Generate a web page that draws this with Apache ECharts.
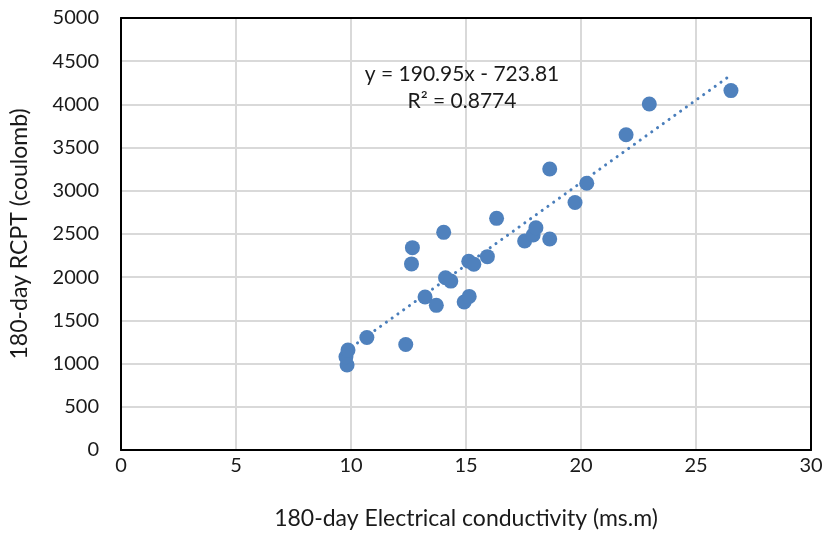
<!DOCTYPE html>
<html><head><meta charset="utf-8">
<script src="https://cdn.jsdelivr.net/npm/echarts@6/dist/echarts.min.js"></script>
<style>html,body{margin:0;padding:0;background:#fff}#c{width:828px;height:535px}</style>
</head><body><div id="c"></div>
<script>
const ecValues = [9.83, 9.78, 9.87, 10.69, 12.38, 12.67, 12.63, 14.03, 13.22, 13.71, 14.11, 14.34, 14.92, 15.14, 15.12, 15.34, 15.93, 16.33, 17.55, 17.92, 18.04, 18.64, 18.64, 19.74, 20.25, 21.96, 22.97, 26.52];
const rcptValues = [983, 1079, 1156, 1302, 1221, 2342, 2154, 2519, 1771, 1674, 1993, 1955, 1713, 1778, 2185, 2151, 2238, 2681, 2419, 2488, 2572, 2442, 3252, 2865, 3087, 3648, 4005, 4160];
const trendSlope = 190.95, trendIntercept = -723.81;
const eqLabel = 'y = 190.95x - 723.81';
const r2Label = 'R² = 0.8774';
const xTitle = '180-day Electrical conductivity (ms.m)';
const yTitle = '180-day RCPT (coulomb)';

const pts = ecValues.map((x, i) => [x, rcptValues[i]]);
const xmin = Math.min(...ecValues), xmax = Math.max(...ecValues);
const trend = [[xmin, trendSlope * xmin + trendIntercept], [xmax, trendSlope * xmax + trendIntercept]];
const font = 'Lato, "Open Sans", sans-serif';
const txt = '#1a1a1a';
const plain = v => String(v);
const frameAxis = {axisLine: {show: true, onZero: false, lineStyle: {color: '#000', width: 2}}, axisTick: {show: false}, axisLabel: {show: false}, splitLine: {show: false}};
const chart = echarts.init(document.getElementById('c'));
chart.setOption({
  animation: false,
  grid: {left: 117, right: 17, top: 18, bottom: 83},
  xAxis: [{type: 'value', min: 0, max: 30, interval: 5,
    name: xTitle, nameLocation: 'middle', nameGap: 57,
    nameTextStyle: {fontSize: 23, color: txt, fontFamily: font},
    axisLine: {show: true, onZero: false, lineStyle: {color: '#000', width: 2}}, axisTick: {show: false},
    axisLabel: {fontSize: 20, color: txt, margin: 6, fontFamily: font, formatter: plain},
    splitLine: {lineStyle: {color: '#d9d9d9', width: 2}}},
    Object.assign({type: 'value', min: 0, max: 30, position: 'top'}, frameAxis)],
  yAxis: [{type: 'value', min: 0, max: 5000, interval: 500,
    name: yTitle, nameLocation: 'middle', nameGap: 90,
    nameTextStyle: {fontSize: 23, color: txt, fontFamily: font},
    axisLine: {show: true, onZero: false, lineStyle: {color: '#000', width: 2}}, axisTick: {show: false},
    axisLabel: {fontSize: 20, color: txt, margin: 22, fontFamily: font, formatter: plain},
    splitLine: {lineStyle: {color: '#d9d9d9', width: 2}}},
    Object.assign({type: 'value', min: 0, max: 5000, position: 'right'}, frameAxis)],
  title: [
    {text: eqLabel, left: 457, top: 59, textAlign: 'center', textStyle: {fontSize: 21, fontWeight: 'normal', color: txt, fontFamily: font}},
    {text: r2Label, left: 457, top: 86, textAlign: 'center', textStyle: {fontSize: 21, fontWeight: 'normal', color: txt, fontFamily: font}}
  ],
  series: [
    {type: 'line', data: trend, symbol: 'none', z: 3,
      lineStyle: {color: '#4a7ebb', width: 3, type: [0.1, 7], cap: 'round'}},
    {type: 'scatter', data: pts, symbol: 'circle', symbolSize: 15, z: 4,
      itemStyle: {color: '#4f81bd', opacity: 1}}
  ]
});
</script></body></html>
